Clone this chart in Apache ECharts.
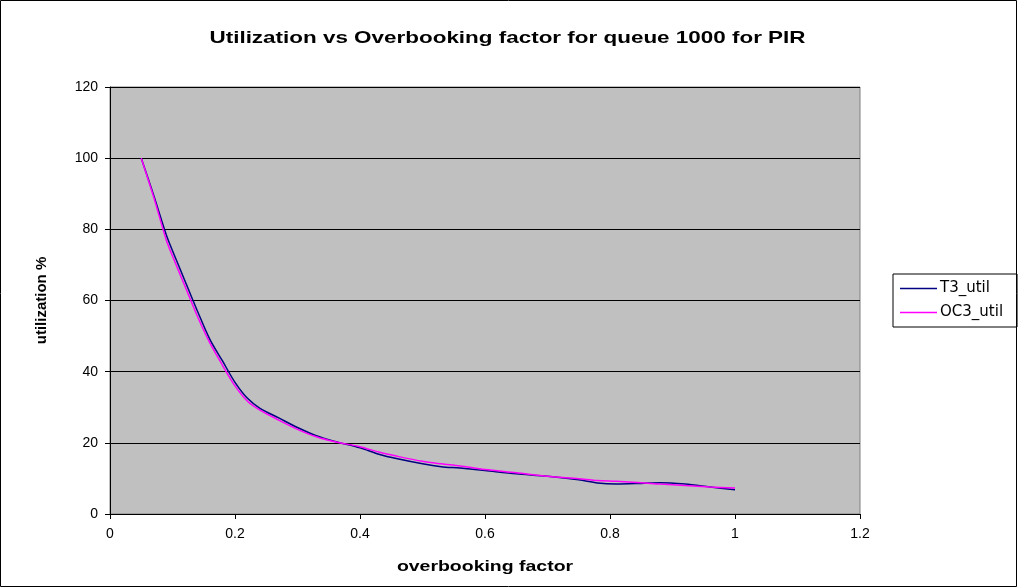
<!DOCTYPE html>
<html>
<head>
<meta charset="utf-8">
<script src="https://cdn.jsdelivr.net/npm/echarts@6/dist/echarts.min.js"></script>
<style>
  html, body { margin: 0; padding: 0; background: #fff; }
  #chart { width: 1018px; height: 588px; }
</style>
</head>
<body>
<div id="chart"></div>
<script>
// overbooking factor (x) and utilization %
const factors = [0.05, 0.07, 0.09, 0.10, 0.12, 0.14, 0.16, 0.18, 0.20, 0.22, 0.24, 0.27, 0.30, 0.33, 0.36,
  0.40, 0.43, 0.46, 0.50, 0.53, 0.56, 0.60, 0.65, 0.70, 0.75, 0.78, 0.81, 0.85, 0.88, 0.92, 0.96, 1.0]
const t3Util = [100, 89.5, 78.5, 74, 65.5, 57, 49, 43, 37, 32.5, 29.7, 27, 24.3, 22, 20.4,
  18.6, 16.8, 15.5, 14.1, 13.3, 12.9, 12.2, 11.3, 10.6, 9.6, 8.7, 8.4, 8.6, 8.8, 8.4, 7.6, 6.8]
const oc3Util = [100, 89, 77, 72.5, 64, 55.5, 48, 41.8, 36, 31.7, 29.2, 26.4, 23.8, 21.7, 20.3,
  18.9, 17.4, 16.2, 14.8, 14.1, 13.5, 12.5, 11.6, 10.6, 9.9, 9.4, 9.2, 8.8, 8.4, 8.0, 7.6, 7.3]
const seriesNames = ['T3_util', 'OC3_util']
const COLORS = ['#000080', '#ff00ff']

const titleText = 'Utilization vs Overbooking factor for queue 1000 for PIR'
const xName = 'overbooking factor'
const yName = 'utilization %'

const FONT = 'Arial, "Liberation Sans", sans-serif'

function pairs(ys) {
  return factors.map((x, i) => [x, ys[i]])
}

// the original text is stretched sideways, so title and x name are drawn as scaled text
function wideText(text, x, y, size, sx) {
  return {
    type: 'text', x, y, scaleX: sx, silent: true,
    style: {
      text, fontFamily: FONT, fontWeight: 'bold', fontSize: size, fill: '#000',
      align: 'center', verticalAlign: 'middle',
    },
  }
}

const chart = echarts.init(document.getElementById('chart'), null, { renderer: 'canvas' })
chart.setOption({
  animation: false,
  color: COLORS,
  graphic: [
    {
      type: 'rect', silent: true, z: -10,
      shape: { x: 0.5, y: 0.5, width: 1016, height: 586 },
      style: { fill: 'none', stroke: '#000', lineWidth: 1 },
    },
    wideText(titleText, 507.5, 38, 17, 1.32),
    wideText(xName, 485, 567, 14, 1.39),
  ],
  legend: {
    orient: 'vertical', left: 893, top: 274,
    data: seriesNames,
    icon: 'rect', itemWidth: 37, itemHeight: 1.5, itemGap: 9,
    padding: [7, 14, 7, 7],
    borderColor: '#000', borderWidth: 1,
    textStyle: { fontFamily: '"DejaVu Sans", sans-serif', fontSize: 15, color: '#000', padding: [0, 0, 0, -2] },
  },
  grid: {
    left: 110, right: 158, top: 87, bottom: 74,
    show: true, backgroundColor: '#c0c0c0', borderColor: '#808080', borderWidth: 1,
  },
  xAxis: {
    type: 'value', min: 0, max: 1.2, interval: 0.2,
    axisLine: { show: true, lineStyle: { color: '#000', width: 1 } },
    axisTick: { show: true, length: 5, lineStyle: { color: '#000' } },
    axisLabel: { fontFamily: FONT, fontSize: 14, color: '#000', margin: 13,
      formatter: (v) => String(Math.round(v * 10) / 10) },
    splitLine: { show: false },
  },
  yAxis: {
    type: 'value', min: 0, max: 120, interval: 20,
    name: yName, nameLocation: 'middle', nameGap: 61,
    nameTextStyle: { fontFamily: FONT, fontWeight: 'bold', fontSize: 15, color: '#000' },
    axisLine: { show: true, lineStyle: { color: '#000', width: 1 } },
    axisTick: { show: true, length: 5, lineStyle: { color: '#000' } },
    axisLabel: { fontFamily: FONT, fontSize: 14, color: '#000', margin: 12 },
    splitLine: { show: true, lineStyle: { color: '#000', width: 1 } },
  },
  series: seriesNames.map((name, i) => ({
    name, type: 'line', smooth: 0.3, showSymbol: false,
    lineStyle: { width: 1.5, color: COLORS[i] },
    data: pairs(i === 0 ? t3Util : oc3Util),
  })),
})
</script>
</body>
</html>
